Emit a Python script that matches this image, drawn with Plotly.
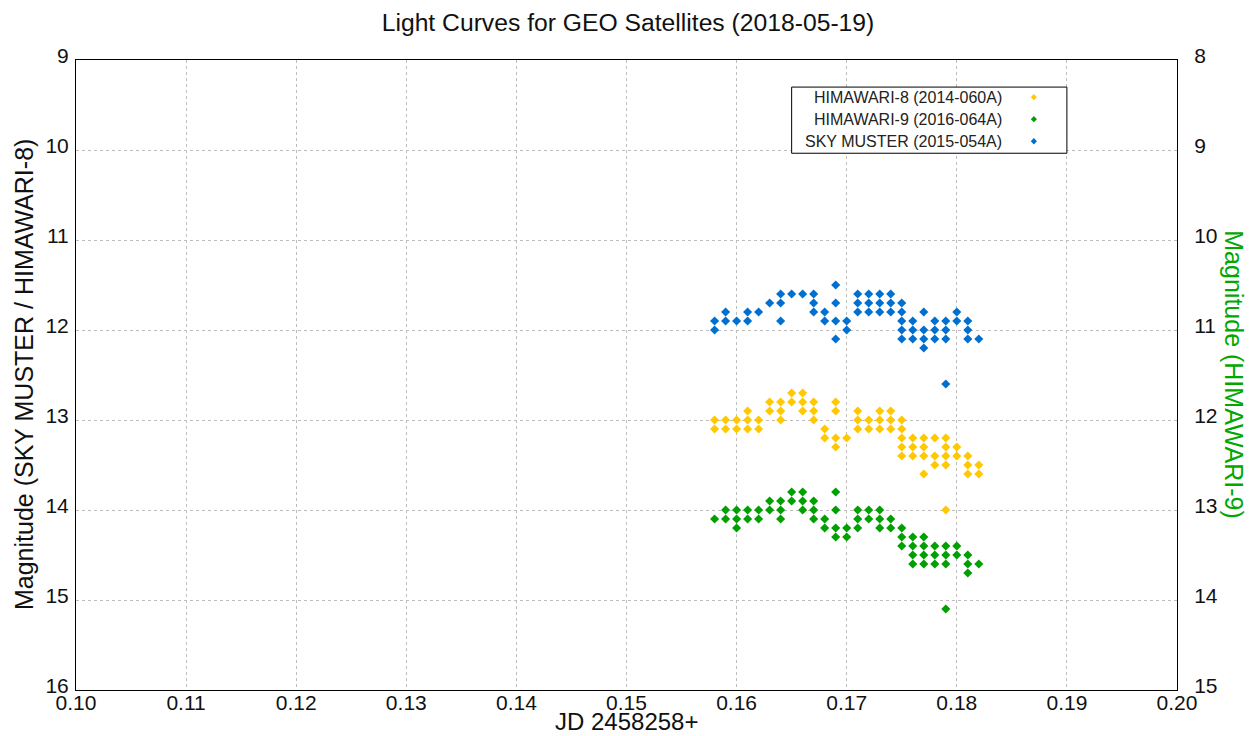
import plotly.graph_objects as go

# ---- data ----
jd_cols = [0.158, 0.159, 0.160, 0.161, 0.162, 0.163, 0.164, 0.165, 0.166, 0.167,
           0.168, 0.169, 0.170, 0.171, 0.172, 0.173, 0.174, 0.175, 0.176, 0.177,
           0.178, 0.179, 0.180, 0.181, 0.182]

himawari8_mag = [
    [13.0, 13.1], [13.0, 13.1], [13.0, 13.1], [12.9, 13.0, 13.1], [13.0, 13.1],
    [12.8, 12.9], [12.8, 12.9, 13.0], [12.7, 12.8], [12.7, 12.8, 12.9], [12.8, 12.9, 13.0],
    [13.1, 13.2], [12.8, 12.9, 13.2, 13.3], [13.2], [12.9, 13.0, 13.1], [13.0, 13.1],
    [12.9, 13.0, 13.1], [12.9, 13.0, 13.1], [13.0, 13.1, 13.2, 13.3, 13.4], [13.2, 13.3, 13.4],
    [13.2, 13.3, 13.4, 13.6], [13.2, 13.4, 13.5], [13.2, 13.3, 13.4, 13.5, 14.0],
    [13.3, 13.4], [13.4, 13.5, 13.6], [13.5, 13.6],
]

# HIMAWARI-9 magnitudes on the right-hand axis
himawari9_mag = [
    [13.1], [13.0, 13.1], [13.0, 13.1, 13.2], [13.0, 13.1], [13.0, 13.1],
    [12.9, 13.0], [12.9, 13.0, 13.1], [12.8, 12.9], [12.8, 12.9, 13.0], [12.9, 13.0, 13.1],
    [13.1, 13.2], [12.8, 13.0, 13.2, 13.3], [13.2, 13.3], [13.0, 13.1, 13.2], [13.0, 13.1],
    [13.0, 13.1, 13.2], [13.1, 13.2], [13.2, 13.3, 13.4], [13.3, 13.4, 13.5, 13.6],
    [13.3, 13.4, 13.5, 13.6], [13.4, 13.5, 13.6], [13.4, 13.5, 13.6, 14.1],
    [13.4, 13.5], [13.5, 13.6, 13.7], [13.6],
]

skymuster_mag = [
    [11.9, 12.0], [11.8, 11.9], [11.9], [11.8, 11.9], [11.8],
    [11.7], [11.6, 11.7, 11.9], [11.6], [11.6], [11.6, 11.7, 11.8],
    [11.8, 11.9], [11.5, 11.7, 11.9, 12.1], [11.9, 12.0], [11.6, 11.7, 11.8], [11.6, 11.7, 11.8],
    [11.6, 11.7, 11.8], [11.6, 11.7, 11.8], [11.7, 11.8, 11.9, 12.0, 12.1], [11.9, 12.0, 12.1],
    [11.8, 12.0, 12.1, 12.2], [11.9, 12.0, 12.1], [11.9, 12.0, 12.1, 12.6],
    [11.8, 11.9], [11.9, 12.0, 12.1], [12.1],
]

series_names = ["HIMAWARI-8 (2014-060A)", "HIMAWARI-9 (2016-064A)", "SKY MUSTER (2015-054A)"]
series_colors = ["#ffc800", "#00a000", "#0070d0"]

x_ticks = [0.10, 0.11, 0.12, 0.13, 0.14, 0.15, 0.16, 0.17, 0.18, 0.19, 0.20]
y_left_ticks = [9, 10, 11, 12, 13, 14, 15, 16]
y_right_ticks = [8, 9, 10, 11, 12, 13, 14, 15]


def flatten(cols, mags):
    xs, ys = [], []
    for x, col in zip(cols, mags):
        for m in col:
            xs.append(x)
            ys.append(m)
    return xs, ys


FONT = "Liberation Sans, Arial, sans-serif"
TXT = "#111111"
fig = go.Figure()

for name, color, mags, yax in zip(series_names, series_colors,
                                  [himawari8_mag, himawari9_mag, skymuster_mag],
                                  ["y", "y2", "y"]):
    xs, ys = flatten(jd_cols, mags)
    fig.add_trace(go.Scatter(x=xs, y=ys, mode="markers", name=name, yaxis=yax,
                             showlegend=False,
                             marker=dict(symbol="diamond", size=7, color=color,
                                         line=dict(width=0))))

axis_common = dict(showline=True, linecolor="black", linewidth=1,
                   showgrid=True, gridcolor="#bdbdbd", griddash="dot", gridwidth=1,
                   zeroline=False, ticks="", tickfont=dict(family=FONT, size=21, color=TXT))

fig.update_layout(
    width=1256, height=736,
    margin=dict(l=76, r=79, t=60, b=46),
    paper_bgcolor="white", plot_bgcolor="white",
    title=dict(text="Light Curves for GEO Satellites (2018-05-19)", x=0.5, xanchor="center",
               y=0.970, yanchor="middle",
               font=dict(family=FONT, size=24.7, color=TXT)),
    xaxis=dict(range=[0.10, 0.20], tickvals=x_ticks, ticktext=[f"{v:.2f}" for v in x_ticks],
               automargin=False, mirror=True, ticklabelstandoff=-6, **axis_common),
    yaxis=dict(range=[16, 9], tickvals=y_left_ticks, ticktext=[str(v) for v in y_left_ticks],
               automargin=False, mirror=False, ticklabelshift=4, ticklabelstandoff=2,
               **axis_common),
    yaxis2=dict(range=[15, 8], tickvals=y_right_ticks, ticktext=[str(v) for v in y_right_ticks],
                overlaying="y", side="right", showgrid=False, showline=True, linecolor="black",
                zeroline=False, ticks="", automargin=False, ticklabelstandoff=12,
                ticklabelshift=4, tickfont=dict(family=FONT, size=21, color=TXT)),
)

# axis titles
fig.add_annotation(text="JD 2458258+", xref="paper", yref="paper",
                   x=0.5, y=-0.0495, xanchor="center", yanchor="middle", showarrow=False,
                   font=dict(family=FONT, size=24, color=TXT))
fig.add_annotation(text="Magnitude (SKY MUSTER / HIMAWARI-8)", xref="paper", yref="paper",
                   x=-0.0472, y=0.5, xanchor="center", yanchor="middle", textangle=-90,
                   showarrow=False, font=dict(family=FONT, size=25, color=TXT))
fig.add_annotation(text="Magnitude (HIMAWARI-9)", xref="paper", yref="paper",
                   x=1.0515, y=0.5, xanchor="center", yanchor="middle", textangle=90,
                   showarrow=False, font=dict(family=FONT, size=25, color="#00a800"))

# custom legend (symbols on the right, as in the reference)
lx0, lx1, ly0, ly1 = 0.650, 0.900, 0.852, 0.957
fig.add_shape(type="rect", xref="paper", yref="paper", x0=lx0, x1=lx1, y0=ly0, y1=ly1,
              line=dict(color="black", width=1), fillcolor="white", layer="above")
row_y = [0.941, 0.906, 0.871]
mx, dx, dy = 0.870, 0.0028, 0.0050
for name, color, yy in zip(series_names, series_colors, row_y):
    fig.add_annotation(text=name, xref="paper", yref="paper", x=0.843, y=yy,
                       xanchor="right", yanchor="middle", showarrow=False,
                       font=dict(family=FONT, size=16, color="#222222"))
    fig.add_shape(type="path", xref="paper", yref="paper",
                  path=f"M {mx-dx},{yy} L {mx},{yy+dy} L {mx+dx},{yy} L {mx},{yy-dy} Z",
                  fillcolor=color, line=dict(width=0), layer="above")

fig.write_html("out.html")
